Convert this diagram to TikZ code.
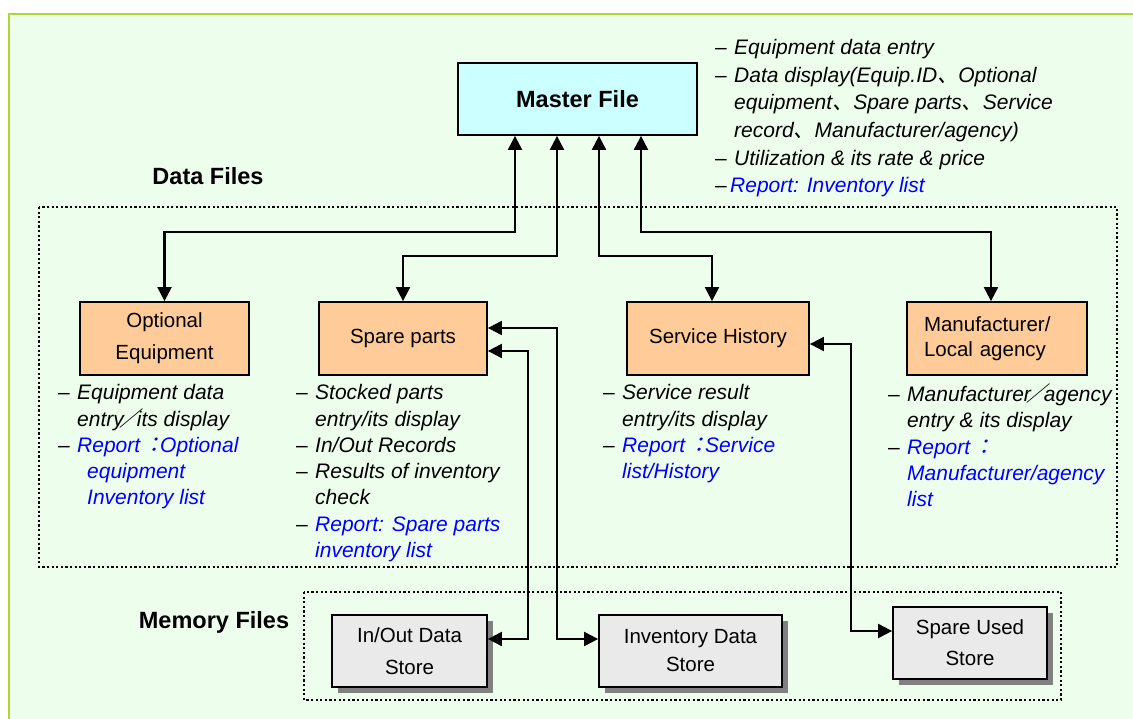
\documentclass[tikz,border=0pt]{standalone}
\usepackage{fontspec}
\setmainfont{Liberation Sans}
\newfontfamily\cjk[FakeSlant=0.2]{Noto Sans CJK JP}
\usetikzlibrary{arrows.meta,shadows,calc}

\definecolor{bggreen}{RGB}{238,254,236}
\definecolor{bgedge}{RGB}{172,216,52}
\definecolor{masterfill}{RGB}{204,255,255}
\definecolor{filefill}{RGB}{255,204,153}
\definecolor{storefill}{RGB}{234,234,234}
\definecolor{reportblue}{RGB}{0,0,255}

% bullet helpers for the note lists
\newcommand{\dashitem}{\rule{0pt}{16pt}\makebox[19pt][l]{\upshape\textendash}}
\newcommand{\contitem}{\hspace*{19pt}}
\newcommand{\cjkc}[1]{{\cjk #1}}
\newcommand{\wslash}{\hspace{-4pt}{\cjk ／}\hspace{-4pt}}
\newcommand{\wcolon}{\hspace{3pt}{\cjk ：}\hspace{-4pt}}
\newcommand{\rep}[1]{\textcolor{reportblue}{#1}}

\tikzset{
  masterbox/.style={draw, line width=1.8pt, fill=masterfill, minimum width=239pt,
    minimum height=72pt, inner sep=0pt, font=\fontsize{23.5}{28}\selectfont\bfseries},
  filebox/.style={draw, line width=1.8pt, fill=filefill, minimum height=73pt,
    inner sep=0pt, align=center},
  storebox/.style={draw, line width=1.8pt, fill=storefill, minimum height=72pt,
    inner sep=0pt, align=center,
    drop shadow={shadow xshift=6pt, shadow yshift=-6pt, fill=gray, opacity=1}},
  notes/.style={anchor=north west, inner sep=0pt, align=left,
    font=\fontsize{21}{26.3}\selectfont\itshape},
  grouplabel/.style={inner sep=0pt, font=\fontsize{23.5}{28}\selectfont\bfseries},
  groupframe/.style={draw, line width=2.4pt, dash pattern=on 2.2pt off 2.4pt},
  link/.style={line width=2.1pt,
    {Triangle[length=14pt,width=14pt]}-{Triangle[length=14pt,width=14pt]}},
}

\begin{document}
\begin{tikzpicture}[x=1pt, y=-1pt]
\useasboundingbox (0,0) rectangle (1133,718);

% page background
\fill[white] (0,0) rectangle (1133,718);
\draw[bgedge, fill=bggreen, line width=2pt] (9,14) rectangle (1160,740);

% group frames and their titles
\draw[groupframe] (39,207) rectangle (1117,567);
\draw[groupframe] (304,592) rectangle (1061,700);
\node[grouplabel] (datalbl) at (208,176) {Data Files};
\node[grouplabel] (memlbl) at (214,622) {Memory Files};

% master file
\node[masterbox] (master) at (577.5,99) {Master File};

% data files
\node[filebox, minimum width=169pt, font=\fontsize{20.5}{32}\selectfont]
  (opt) at (164.5,338.5) {Optional\\Equipment};
\node[filebox, minimum width=168pt, font=\fontsize{20.5}{25}\selectfont]
  (spare) at (403,338.5) {Spare parts};
\node[filebox, minimum width=182pt, font=\fontsize{20.5}{25}\selectfont]
  (serv) at (718,338.5) {Service History};
\node[filebox, minimum width=180pt, align=left, text width=146pt,
  font=\fontsize{20.5}{25}\selectfont]
  (manu) at (997,338.5) {Manufacturer/\\Local agency};

% memory files
\node[storebox, minimum width=155pt, font=\fontsize{20.5}{32}\selectfont]
  (io) at (409.5,651) {In/Out Data\\Store};
\node[storebox, minimum width=183pt, font=\fontsize{20.5}{28}\selectfont]
  (inv) at (690.5,651) {Inventory Data\\Store};
\node[storebox, minimum width=154pt, font=\fontsize{20.5}{31}\selectfont]
  (used) at (970,643) {Spare Used\\Store};

% notes
\node[notes, font=\fontsize{21}{27.6}\selectfont\itshape] (mnotes) at (715,38.5) {%
  \dashitem Equipment data entry\\
  \dashitem Data display(Equip.ID\cjkc{、}Optional\\
  \contitem equipment\cjkc{、}Spare parts\cjkc{、}Service\\
  \contitem record\cjkc{、}Manufacturer/agency)\\
  \dashitem Utilization \& its rate \& price\\
  \makebox[15pt][l]{\upshape\textendash}\rep{Report: Inventory list}};

\node[notes] (optnotes) at (58,383.5) {%
  \dashitem Equipment data\\
  \contitem entry\wslash its display\\
  \dashitem \rep{Report\wcolon Optional}\\
  \hspace*{29pt}\rep{equipment}\\
  \hspace*{29pt}\rep{Inventory list}};

\node[notes] (sparenotes) at (296,383.5) {%
  \dashitem Stocked parts\\
  \contitem entry/its display\\
  \dashitem In/Out Records\\
  \dashitem Results of inventory\\
  \contitem check\\
  \dashitem \rep{Report: Spare parts}\\
  \contitem \rep{inventory list}};

\node[notes] (servnotes) at (603,383.5) {%
  \dashitem Service result\\
  \contitem entry/its display\\
  \dashitem \rep{Report\wcolon Service}\\
  \contitem \rep{list/History}};

\node[notes] (manunotes) at (888,383.5) {%
  \dashitem Manufacturer\wslash agency\\
  \contitem entry \& its display\\
  \dashitem \rep{Report\wcolon}\\
  \contitem \rep{Manufacturer/agency}\\
  \contitem \rep{list}};

% attachment points under the master file
\coordinate (m1) at ([xshift=-62.5pt]master.south);
\coordinate (m2) at ([xshift=-20.5pt]master.south);
\coordinate (m3) at ([xshift=21.5pt]master.south);
\coordinate (m4) at ([xshift=63.5pt]master.south);

% master file <-> data files
\draw[link] (m1) -- ++(0,96) -| (opt.north);
\draw[link] (m2) -- ++(0,120) -| (spare.north);
\draw[link] (m3) -- ++(0,120) -| ([xshift=-6pt]serv.north);
\draw[link] (m4) -- ++(0,96) -| ([xshift=-6pt]manu.north);

% data files <-> memory files
\coordinate (v1) at (557,500);
\coordinate (v2) at (528,500);
\coordinate (v3) at (851,500);
\draw[link] ([yshift=10.5pt]spare.east) -| (v1) |- ([yshift=12pt]inv.west);
\draw[link] ([yshift=-12.5pt]spare.east) -| (v2) |- ([yshift=12pt]io.east);
\draw[link] ([yshift=-5.5pt]serv.east) -| (v3) |- ([yshift=12pt]used.west);
\end{tikzpicture}
\end{document}
